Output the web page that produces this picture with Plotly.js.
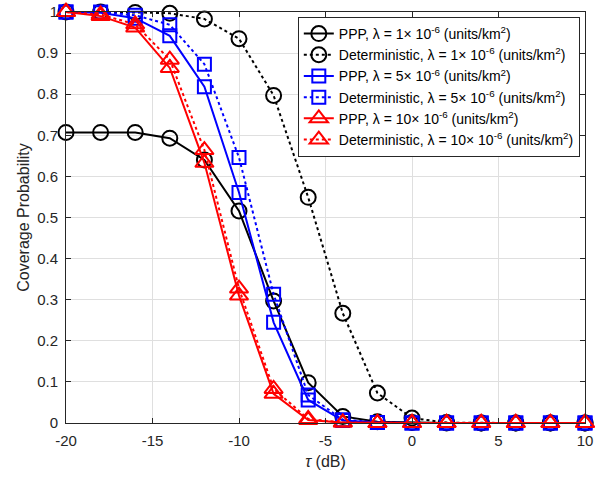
<!DOCTYPE html>
<html>
<head>
<meta charset="utf-8">
<script src="https://cdn.plot.ly/plotly-3.0.1.min.js"></script>
<style>html,body{margin:0;padding:0;background:#fff;}#chart{width:609px;height:477px;}</style>
</head>
<body>
<div id="chart"></div>
<script>
const tau = [-20, -18, -16, -14, -12, -10, -8, -6, -4, -2, 0, 2, 4, 6, 8, 10];
const ppp1 = [0.707, 0.707, 0.707, 0.693, 0.640, 0.516, 0.297, 0.098, 0.016, 0.003, 0.001, 0, 0, 0, 0, 0];
const det1 = [1.000, 1.000, 0.999, 0.997, 0.983, 0.935, 0.797, 0.549, 0.267, 0.073, 0.012, 0.001, 0, 0, 0, 0];
const ppp5 = [1.000, 0.998, 0.985, 0.942, 0.818, 0.561, 0.245, 0.056, 0.006, 0.001, 0, 0, 0, 0, 0, 0];
const det5 = [1.000, 1.000, 0.992, 0.969, 0.873, 0.646, 0.313, 0.068, 0.008, 0.001, 0, 0, 0, 0, 0, 0];
const ppp10 = [1.000, 0.990, 0.962, 0.864, 0.633, 0.310, 0.071, 0.007, 0.001, 0, 0, 0, 0, 0, 0, 0];
const det10 = [1.000, 0.994, 0.970, 0.884, 0.664, 0.327, 0.083, 0.010, 0.001, 0, 0, 0, 0, 0, 0, 0];
const xTickVals = [-20, -15, -10, -5, 0, 5, 10];
const xTickText = ['-20', '-15', '-10', '-5', '0', '5', '10'];
const yTickVals = [0, 0.1, 0.2, 0.3, 0.4, 0.5, 0.6, 0.7, 0.8, 0.9, 1];
const yTickText = ['0', '0.1', '0.2', '0.3', '0.4', '0.5', '0.6', '0.7', '0.8', '0.9', '1'];
const names = [
  'PPP, λ = 1× 10<sup>-6</sup> (units/km<sup>2</sup>)',
  'Deterministic, λ = 1× 10<sup>-6</sup> (units/km<sup>2</sup>)',
  'PPP, λ = 5× 10<sup>-6</sup> (units/km<sup>2</sup>)',
  'Deterministic, λ = 5× 10<sup>-6</sup> (units/km<sup>2</sup>)',
  'PPP, λ = 10× 10<sup>-6</sup> (units/km<sup>2</sup>)',
  'Deterministic, λ = 10× 10<sup>-6</sup> (units/km<sup>2</sup>)'
];
const series = [ppp1, det1, ppp5, det5, ppp10, det10];
const colors = ['#000000', '#000000', '#0000ff', '#0000ff', '#ff0000', '#ff0000'];
const symbols = ['circle-open', 'circle-open', 'square-open', 'square-open', 'triangle-up-open', 'triangle-up-open'];
const dashes = ['solid', 'dot', 'solid', 'dot', 'solid', 'dot'];
const sizes = [15, 15, 13, 13, 16, 16];
const traces = series.map((s, i) => ({
  x: tau, y: s, name: names[i], type: 'scatter', mode: 'lines+markers', cliponaxis: false,
  line: {color: colors[i], width: 2, dash: dashes[i]},
  marker: {symbol: symbols[i], size: sizes[i], color: colors[i], line: {width: 2, color: colors[i]}}
}));
const layout = {
  width: 609, height: 477,
  margin: {l: 66, r: 24, t: 12, b: 54},
  paper_bgcolor: '#fff', plot_bgcolor: '#fff',
  font: {family: 'Liberation Sans, Arial, sans-serif', size: 15, color: '#262626'},
  showlegend: true,
  legend: {x: 0.99, y: 0.988, xanchor: 'right', yanchor: 'top', bgcolor: '#fff',
    bordercolor: '#262626', borderwidth: 1, font: {size: 14, color: '#000'}, tracegroupgap: 0},
  xaxis: {range: [-20, 10], tickvals: xTickVals, ticktext: xTickText, showgrid: true, gridcolor: '#dfdfdf', zeroline: false,
    showline: true, linecolor: '#262626', linewidth: 1, mirror: 'ticks', ticks: 'inside', ticklen: 5,
    tickcolor: '#262626', ticklabelstandoff: 4,
    title: {text: '<i>τ</i> (dB)', font: {size: 16}, standoff: 7}},
  yaxis: {range: [0, 1], tickvals: yTickVals, ticktext: yTickText, showgrid: true, gridcolor: '#dfdfdf', zeroline: false,
    showline: true, linecolor: '#262626', linewidth: 1, mirror: 'ticks', ticks: 'inside', ticklen: 5,
    tickcolor: '#262626', ticklabelstandoff: 4,
    title: {text: 'Coverage Probability', font: {size: 16}, standoff: 3}}
};
Plotly.newPlot('chart', traces, layout, {displayModeBar: false, staticPlot: true});
</script>
</body>
</html>
